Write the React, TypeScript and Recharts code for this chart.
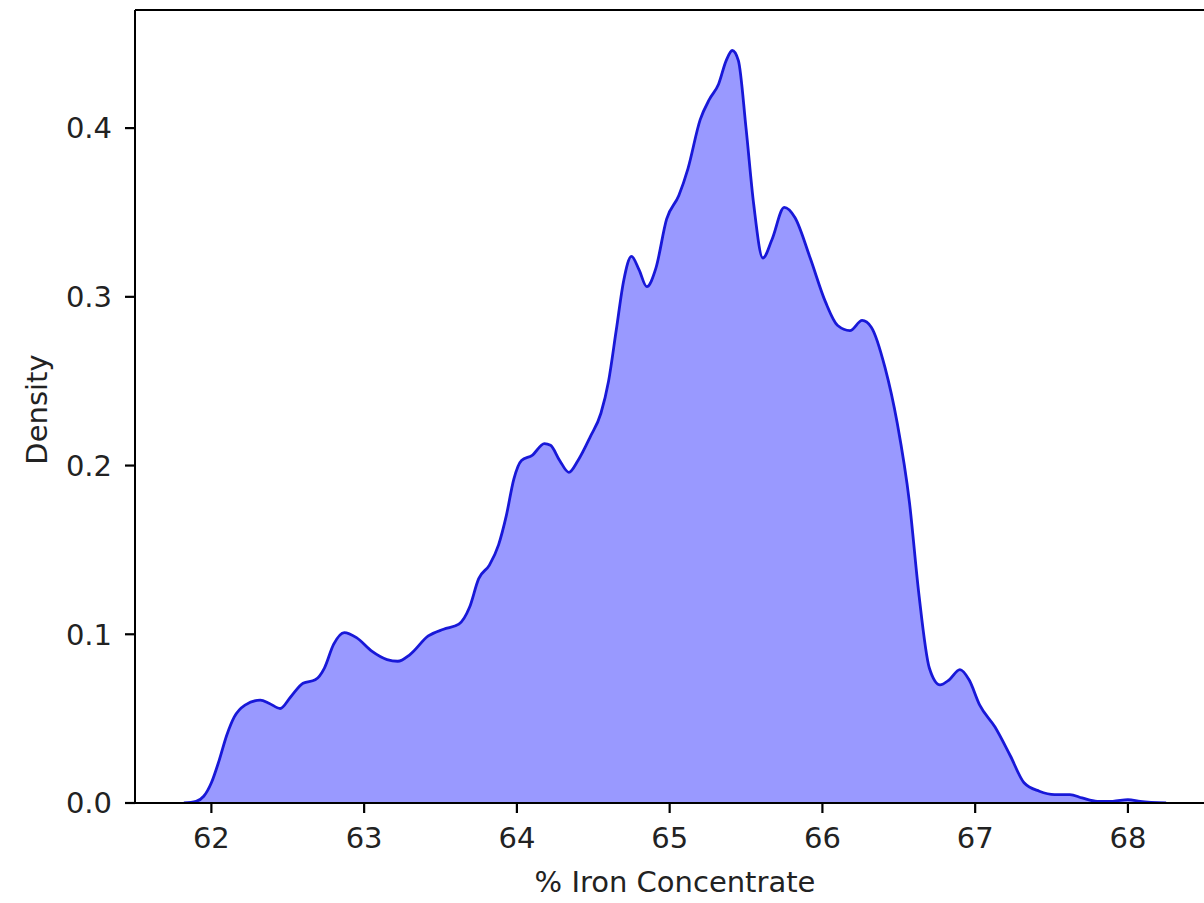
import { Area, AreaChart, Label, ReferenceLine, XAxis, YAxis } from "recharts";

// % iron concentrate values (x) and their kernel density estimate (y)
const ironPct = [
  61.82, 61.9, 61.95, 62.0, 62.05, 62.1, 62.15, 62.22, 62.32, 62.38, 62.45, 62.52, 62.6, 62.68, 62.74,
  62.8, 62.87, 62.95, 63.05, 63.15, 63.22, 63.3, 63.42, 63.52, 63.62, 63.69, 63.75, 63.82, 63.88, 63.93,
  63.98, 64.03, 64.1, 64.18, 64.22, 64.28, 64.34, 64.4, 64.48, 64.55, 64.6, 64.65, 64.7, 64.75, 64.8,
  64.85, 64.91, 64.98, 65.06, 65.12, 65.2, 65.26, 65.32, 65.37, 65.41, 65.45, 65.5, 65.55, 65.61, 65.67,
  65.75, 65.82, 65.92, 66.02, 66.1, 66.18, 66.26, 66.32, 66.41, 66.49, 66.57, 66.63, 66.7, 66.77, 66.83,
  66.9, 66.96, 67.03, 67.13, 67.23, 67.32, 67.42, 67.52, 67.62, 67.7, 67.8, 67.9, 68.0, 68.08, 68.25
];

const density = [
  0, 0.001, 0.004, 0.012, 0.025, 0.04, 0.051, 0.058, 0.061, 0.059, 0.056, 0.063, 0.071, 0.073, 0.08,
  0.094, 0.101, 0.098, 0.09, 0.085, 0.084, 0.088, 0.099, 0.103, 0.106, 0.116, 0.133, 0.141, 0.153, 0.17,
  0.192, 0.203, 0.206, 0.213, 0.212, 0.203, 0.196, 0.203, 0.217, 0.231, 0.25, 0.28, 0.31, 0.324, 0.316,
  0.306, 0.317, 0.346, 0.36, 0.376, 0.405, 0.417, 0.426, 0.44, 0.446, 0.44, 0.4, 0.355, 0.323, 0.334,
  0.353, 0.347, 0.323, 0.297, 0.283, 0.28, 0.286, 0.282, 0.258, 0.225, 0.178, 0.125, 0.08, 0.07, 0.073,
  0.079, 0.073, 0.058, 0.045, 0.028, 0.012, 0.007, 0.005, 0.005, 0.003, 0.001, 0.001, 0.002, 0.001, 0
];

const xTicks = [62, 63, 64, 65, 66, 67, 68];
const yTicks = [0, 0.1, 0.2, 0.3, 0.4];
const xDomain = [61.5, 68.57];
const yDomain = [0, 0.47];

const data = ironPct.map((x, i) => ({ x, y: density[i] }));

const font = "'DejaVu Sans', sans-serif";
const tickStyle = { fontSize: 29, fill: "#222", fontFamily: font } as const;
const labelStyle = { fontSize: 29, fill: "#222", fontFamily: font } as const;

export default function App() {
  return (
    <div style={{ position: "fixed", left: 0, top: 0, width: 1204, height: 903, overflow: "hidden", background: "#fff" }}>
      <AreaChart width={1220} height={903} data={data} margin={{ top: 10, right: 5, left: 0, bottom: 0 }}>
        <XAxis
          dataKey="x"
          type="number"
          domain={xDomain}
          ticks={xTicks}
          allowDataOverflow
          height={100}
          tick={tickStyle}
          tickSize={10}
          tickMargin={14}
          stroke="#000"
          strokeWidth={2}
          tickLine={{ stroke: "#000", strokeWidth: 2.2 }}
        >
          <Label value="% Iron Concentrate" position="insideBottom" offset={11} style={labelStyle} />
        </XAxis>
        <YAxis
          type="number"
          domain={yDomain}
          ticks={yTicks}
          allowDataOverflow
          width={135}
          tick={tickStyle}
          tickSize={10}
          tickMargin={13}
          tickFormatter={(v: number) => v.toFixed(1)}
          stroke="#000"
          strokeWidth={2}
          tickLine={{ stroke: "#000", strokeWidth: 2.2 }}
        >
          <Label
            content={({ viewBox }: any) => {
              const cx = 37;
              const cy = viewBox.y + viewBox.height / 2 + 3;
              return (
                <text
                  x={cx}
                  y={cy}
                  transform={`rotate(-90, ${cx}, ${cy})`}
                  textAnchor="middle"
                  dominantBaseline="central"
                  style={labelStyle}
                >
                  Density
                </text>
              );
            }}
          />
        </YAxis>
        <Area
          type="monotone"
          dataKey="y"
          stroke="#1818d8"
          strokeWidth={2.8}
          fill="#0000ff"
          fillOpacity={0.4}
          dot={false}
          activeDot={false}
          isAnimationActive={false}
        />
        <ReferenceLine y={yDomain[1]} stroke="#000" strokeWidth={2} ifOverflow="extendDomain" />
        <ReferenceLine x={xDomain[1]} stroke="#000" strokeWidth={2} ifOverflow="extendDomain" />
      </AreaChart>
    </div>
  );
}
